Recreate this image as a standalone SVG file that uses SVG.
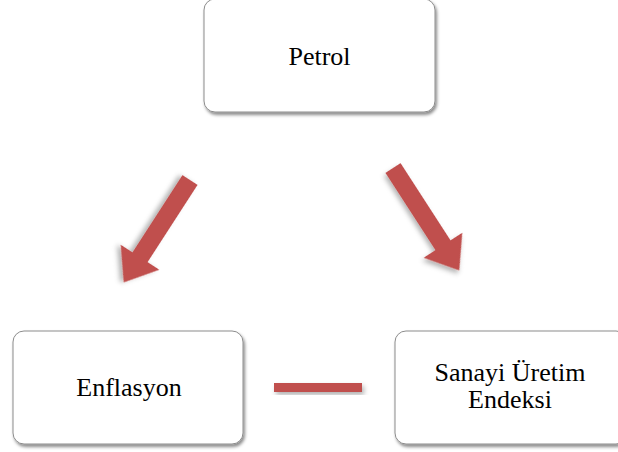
<svg xmlns="http://www.w3.org/2000/svg" width="618" height="452" viewBox="0 0 618 452">
<defs>
<filter id="sh" x="-10%" y="-10%" width="125%" height="130%">
<feDropShadow dx="1.5" dy="2.5" stdDeviation="1.8" flood-color="#000" flood-opacity="0.45"/>
</filter>
<filter id="ash" x="-30%" y="-30%" width="160%" height="160%">
<feDropShadow dx="2" dy="3" stdDeviation="2.5" flood-color="#000" flood-opacity="0.3"/>
</filter>
<polygon id="arrow" points="0,-9 92,-9 92,-23 122,0 92,23 92,9 0,9"/>
</defs>
<style>
.box{fill:#fff;stroke:#8c8c8c;stroke-width:1;filter:url(#sh)}
.lbl{font-family:"Liberation Serif","Times New Roman",serif;font-size:26px;fill:#000;text-anchor:middle}
.conn{fill:#C0504D;filter:url(#ash)}
</style>
<g id="petrol">
<rect class="box" x="204" y="-1" width="231" height="113" rx="11"/>
<text class="lbl" x="319.5" y="65">Petrol</text>
</g>
<g id="enflasyon">
<rect class="box" x="13" y="331" width="230" height="113" rx="11"/>
<text class="lbl" x="129" y="396">Enflasyon</text>
</g>
<g id="sanayi">
<rect class="box" x="395" y="331" width="232" height="113" rx="11"/>
<text class="lbl" x="510" y="381">Sanayi Üretim</text>
<text class="lbl" x="510" y="408">Endeksi</text>
</g>
<g id="connectors">
<use href="#arrow" class="conn" transform="translate(190,180) rotate(122.9)"/>
<use href="#arrow" class="conn" transform="translate(393,168) rotate(57.1)"/>
<rect class="conn" x="274" y="383" width="88" height="9"/>
</g>
</svg>
